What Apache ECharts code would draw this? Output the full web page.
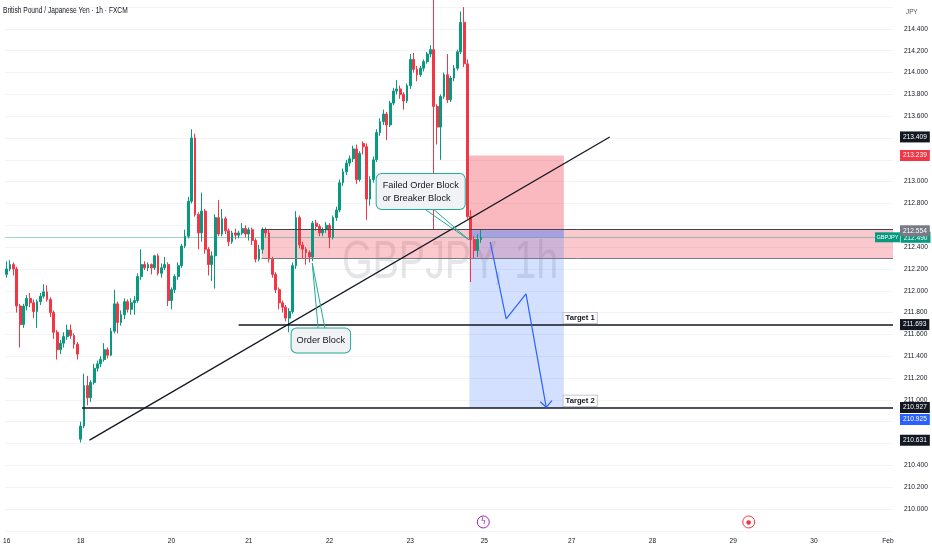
<!DOCTYPE html>
<html><head><meta charset="utf-8">
<script src="https://cdn.jsdelivr.net/npm/echarts@6/dist/echarts.min.js"></script>
<style>html,body{margin:0;padding:0;background:#fff}#c{width:932px;height:550px}</style>
</head><body><div id="c"></div>
<script>
// ---- candle data (hourly GBPJPY) ----
const opens = [212.15,212.20,212.24,212.20,211.86,211.69,211.86,211.93,211.89,211.81,211.90,211.95,211.99,211.92,211.80,211.62,211.46,211.52,211.58,211.64,211.59,211.51,
210.64,210.76,211.13,211.02,211.16,211.29,211.33,211.37,211.46,211.41,211.63,211.88,211.71,211.78,211.90,211.83,
211.89,211.91,212.13,212.24,212.21,212.24,212.21,212.32,212.16,212.21,212.24,211.91,212.01,212.13,212.23,212.41,212.50,212.82,213.40,212.70,212.53,212.73,212.38,212.24,212.32,212.67,212.52,212.66,212.55,212.45,212.53,212.51,212.53,212.57,212.52,212.56,
212.46,212.29,212.38,212.56,212.53,212.29,212.15,212.01,211.89,211.85,211.75,211.81,212.23,212.67,212.42,212.38,212.35,212.31,212.62,212.59,212.53,212.56,212.60,212.49,212.67,212.74,
212.99,213.09,213.17,213.21,213.30,213.02,213.35,213.32,212.84,213.02,213.20,213.45,213.55,213.62,213.52,213.72,213.83,213.85,213.80,213.74,213.88,214.12,214.03,213.98,214.04,214.10,214.17,
214.21,213.69,213.50,213.78,213.98,213.75,213.95,214.04,214.19,214.46,214.08,212.68,212.47,212.37,212.47];
const closes = [212.20,212.24,212.20,211.86,211.69,211.86,211.93,211.89,211.81,211.90,211.95,211.99,211.92,211.80,211.62,211.46,211.52,211.58,211.64,211.59,211.51,211.42,
210.76,211.13,211.02,211.16,211.29,211.33,211.37,211.46,211.41,211.63,211.88,211.71,211.78,211.90,211.83,211.89,
211.91,212.13,212.24,212.21,212.24,212.21,212.32,212.16,212.21,212.24,211.91,212.01,212.13,212.23,212.41,212.50,212.82,213.40,212.70,212.53,212.73,212.38,212.24,212.32,212.67,212.52,212.66,212.55,212.45,212.53,212.51,212.53,212.57,212.52,212.56,212.46,
212.29,212.38,212.56,212.53,212.29,212.15,212.01,211.89,211.85,211.75,211.81,212.23,212.67,212.42,212.38,212.35,212.31,212.62,212.59,212.53,212.56,212.60,212.49,212.67,212.74,212.99,
213.09,213.17,213.21,213.30,213.02,213.26,213.32,212.84,213.02,213.20,213.45,213.55,213.62,213.52,213.72,213.83,213.85,213.80,213.74,213.88,214.12,214.03,213.98,214.04,214.10,214.17,214.21,
213.69,213.50,213.78,213.98,213.75,213.95,214.04,214.19,214.46,214.08,212.68,212.47,212.37,212.47,212.49];
const lows = [212.12,212.18,212.14,211.80,211.48,211.66,211.82,211.85,211.75,211.66,211.87,211.93,211.90,211.76,211.56,211.37,211.42,211.48,211.55,211.56,211.47,211.37,
210.61,210.74,210.95,210.98,211.14,211.26,211.30,211.35,211.38,211.40,211.61,211.61,211.68,211.74,211.80,211.78,
211.78,211.89,212.10,212.19,212.18,212.15,212.19,212.14,212.12,212.19,211.86,211.83,211.98,212.10,212.21,212.39,212.48,212.80,212.68,212.38,212.45,212.34,212.14,212.09,212.02,212.50,212.50,212.52,212.41,212.43,212.47,212.48,212.51,212.49,212.46,212.42,
212.26,212.27,212.34,212.49,212.26,212.12,211.98,211.83,211.80,211.72,211.62,211.79,212.20,212.39,212.30,212.24,212.26,212.27,212.55,212.50,212.50,212.53,212.39,212.47,212.64,212.72,
212.96,213.06,213.14,213.18,212.98,213.00,213.25,212.65,212.78,212.99,213.18,213.42,213.52,213.38,213.50,213.70,213.80,213.76,213.66,213.72,213.85,214.00,213.92,213.96,214.01,214.08,214.14,
212.56,213.34,213.20,213.76,213.72,213.73,213.92,214.02,214.17,214.05,212.66,212.08,212.30,212.31,212.44];
const highs = [212.27,212.28,212.26,212.22,211.88,211.88,211.96,211.98,211.92,211.92,211.98,212.06,212.05,211.94,211.82,211.64,211.55,211.62,211.69,211.69,211.61,211.53,
210.80,211.24,211.22,211.18,211.33,211.36,211.40,211.52,211.48,211.66,212.01,211.90,211.82,211.93,211.92,211.93,
211.95,212.16,212.38,212.27,212.26,212.25,212.33,212.34,212.25,212.31,212.26,212.03,212.15,212.26,212.43,212.56,212.86,213.48,213.44,212.72,212.90,212.75,212.40,212.36,212.70,212.83,212.75,212.68,212.57,212.55,212.57,212.55,212.62,212.60,212.58,212.58,
212.48,212.42,212.58,212.58,212.56,212.31,212.17,212.03,211.91,211.87,211.84,212.26,212.73,212.69,212.45,212.40,212.37,212.64,212.65,212.61,212.58,212.63,212.62,212.69,212.77,213.02,
213.12,213.20,213.24,213.33,213.34,213.28,213.37,213.35,213.05,213.23,213.48,213.58,213.66,213.64,213.74,213.86,213.93,213.88,213.82,213.90,214.17,214.18,214.06,214.06,214.12,214.19,214.25,
214.72,213.71,213.80,214.00,214.17,213.97,214.07,214.21,214.56,214.60,214.12,212.74,212.50,212.52,212.56];

// ---- time axis ticks ----
const slotCount = 264;
const tickIndex = [0,22,49,72,96,120,142,168,192,216,240,262];
const tickText = ['16','18','20','21','22','23','25','27','28','29','30','Feb'];

// ---- price axis ----
const priceMin = 209.8, priceMax = 214.6, priceStep = 0.2;
const hiddenPriceLabels = [214.6, 213.4, 213.2, 212.6, 210.8, 210.6, 209.8];

// ---- drawing levels ----
const lastPrice = 212.490;
const entryPrice = 212.554;
const stopPrice = 213.239;
const targetPrice = 210.925;
const target1 = 211.693;
const target2 = 210.927;
const trendStart = [24.63, 210.631];
const trendEnd = [179.3, 213.409];
const zoneTop = 212.566, zoneBottom = 212.301, zoneStart = 75.77;
const positionStart = 137.56, positionEnd = 165.65;
const target1Start = 68.97, target2Start = 22.4;
const arrowPath = [[143.77,212.447],[148.5,211.742],[154.4,211.971],[160.41,210.932]];
const arrowHead = [[158.64,210.983],[160.41,210.932],[162.1,210.993]];
const failedWedge = [[124.6,212.741],[137.47,212.466],[127.1,212.741]];
const obWedge = [[92.6,211.659],[90.85,212.252],[94.6,211.659]];
const failedLabelAt = [110.0, 212.910];
const obLabelAt = [93.4, 211.544];
const target1LabelAt = [170.5, 211.751];
const target2LabelAt = [170.5, 210.992];
const eventsAt = [[141.7, 209.881], [220.6, 209.881]];

const FONT = "'Liberation Sans', Arial, sans-serif";
const UP = '#089981', DOWN = '#f23645', INK = '#131722';

const categories = [];
for (let i = 0; i < slotCount; i++) {
  const t = tickIndex.indexOf(i);
  categories.push(t >= 0 ? tickText[t] : '');
}
const candles = opens.map((o, i) => [o, closes[i], lows[i], highs[i]]);
const xEnd = slotCount - 0.5;

function boxLabel(value, bg, offsetY) {
  return {
    show: true, position: 'end', distance: 7, offset: [0, offsetY || 0],
    formatter: value.toFixed(3), backgroundColor: bg, color: '#ffffff', opacity: 1,
    padding: [2.5, 3, 1.5, 3], fontSize: 6.6, fontFamily: FONT
  };
}
function axisBox(value, bg, offsetY) {
  return { yAxis: value, lineStyle: { color: 'rgba(0,0,0,0)', width: 1, opacity: 1 }, label: boxLabel(value, bg, offsetY) };
}

const chart = echarts.init(document.getElementById('c'), null, { renderer: 'canvas' });
chart.setOption({
  animation: false,
  backgroundColor: '#ffffff',
  graphic: [
    { type: 'text', x: 3, y: 11, scaleX: 0.78, z: 1, style: { text: 'British Pound / Japanese Yen · 1h · FXCM', fontSize: 8.5, fill: INK, verticalAlign: 'middle', fontFamily: FONT } },
    { type: 'text', x: 906, y: 12, z: 1, style: { text: 'JPY', fontSize: 6.3, fill: '#50535e', verticalAlign: 'middle', fontFamily: FONT } },
    { type: 'text', x: 450, y: 263, scaleX: 0.73, z: 1, style: { text: 'GBPJPY, 1h', fontSize: 54, fill: 'rgba(120,123,134,0.2)', align: 'center', verticalAlign: 'middle', fontFamily: FONT } }
  ],
  grid: { left: 0, right: 39, top: 7.1, bottom: 19.2, containLabel: false },
  xAxis: [
    {
      type: 'category', data: categories, boundaryGap: true,
      axisLine: { show: false }, axisTick: { show: false },
      axisLabel: { interval: 0, fontSize: 6.6, color: INK, margin: 7, fontFamily: FONT },
      splitLine: { show: false }
    },
    { type: 'value', min: -0.5, max: xEnd, show: false }
  ],
  yAxis: {
    type: 'value', position: 'right', min: priceMin, max: priceMax, interval: priceStep,
    axisLine: { show: false }, axisTick: { show: false },
    splitLine: { show: true, lineStyle: { color: '#f3f4f6', width: 1 } },
    axisLabel: {
      fontSize: 6.6, color: INK, margin: 11, fontFamily: FONT,
      formatter: v => hiddenPriceLabels.some(h => Math.abs(h - v) < 1e-6) ? '' : v.toFixed(3)
    }
  },
  series: [
    {
      type: 'candlestick', name: 'GBPJPY', xAxisIndex: 0, data: candles,
      barWidth: '70%', clip: false, z: 2,
      itemStyle: { color: UP, color0: DOWN, borderColor: UP, borderColor0: DOWN, borderWidth: 1 },
      markLine: {
        silent: true, symbol: ['none', 'none'], animation: false,
        data: [{
          yAxis: lastPrice,
          lineStyle: { color: 'rgba(8,153,129,0.5)', width: 0.8, type: 'solid', opacity: 1 },
          label: {
            show: true, position: 'end', distance: 7, offset: [-25, 0],
            formatter: '{a|GBPJPY}{s| }{b|' + lastPrice.toFixed(3) + '}',
            rich: {
              a: { backgroundColor: UP, color: '#fff', padding: [2.5, 1.5, 1.5, 1.5], fontSize: 5.6, fontFamily: FONT },
              s: { fontSize: 2 },
              b: { backgroundColor: UP, color: '#fff', padding: [2.5, 3, 1.5, 3], fontSize: 6.6, fontFamily: FONT }
            }
          }
        }]
      }
    },
    {
      type: 'line', name: 'projection', xAxisIndex: 1, data: arrowPath, z: 5,
      symbol: 'none', lineStyle: { color: '#2962ff', width: 1.2 },
      markArea: {
        silent: true, label: { show: false },
        data: [
          [{ coord: [zoneStart, zoneTop], itemStyle: { color: 'rgba(242,54,69,0.27)' } }, { coord: [xEnd, zoneBottom] }],
          [{ coord: [positionStart, stopPrice], itemStyle: { color: 'rgba(242,54,69,0.35)' } }, { coord: [positionEnd, entryPrice] }],
          [{ coord: [positionStart, entryPrice], itemStyle: { color: 'rgba(41,98,255,0.2)' } }, { coord: [positionEnd, targetPrice] }],
          [{ coord: [positionStart, entryPrice], itemStyle: { color: 'rgba(41,98,255,0.25)' } }, { coord: [positionEnd, lastPrice] }]
        ]
      },
      markLine: {
        silent: true, symbol: ['none', 'none'], animation: false,
        lineStyle: { type: 'solid' }, label: { show: false },
        data: [
          [{ coord: [zoneStart, zoneTop], lineStyle: { color: '#434651', width: 1, type: 'solid' } }, { coord: [xEnd, zoneTop] }],
          [{ coord: [zoneStart, zoneBottom], lineStyle: { color: '#787b86', width: 1, type: 'solid' } }, { coord: [xEnd, zoneBottom] }],
          [{ coord: trendStart, lineStyle: { color: INK, width: 1.3, type: 'solid' } }, { coord: trendEnd }],
          [{ coord: [target1Start, target1], lineStyle: { color: INK, width: 1.5, type: 'solid' } }, { coord: [xEnd, target1] }],
          [{ coord: [target2Start, target2], lineStyle: { color: INK, width: 1.5, type: 'solid' } }, { coord: [xEnd, target2] }],
          axisBox(trendEnd[1], INK),
          axisBox(stopPrice, DOWN),
          axisBox(entryPrice, '#787b86'),
          axisBox(target1, INK),
          axisBox(target2, INK),
          axisBox(targetPrice, '#2962ff', 12),
          axisBox(trendStart[1], INK)
        ]
      },
      markPoint: {
        silent: true, animation: false,
        data: [
          {
            coord: failedLabelAt, symbol: 'circle', symbolSize: 0,
            label: {
              show: true, position: 'inside', formatter: 'Failed Order Block\nor Breaker Block',
              color: INK, fontSize: 9.2, lineHeight: 13, align: 'left', fontFamily: FONT,
              backgroundColor: '#f0f2f5', borderColor: '#22ab94', borderWidth: 1, borderRadius: 5, padding: [5, 6, 4, 6]
            }
          },
          {
            coord: obLabelAt, symbol: 'circle', symbolSize: 0,
            label: {
              show: true, position: 'inside', formatter: 'Order Block',
              color: INK, fontSize: 9.2, lineHeight: 13, fontFamily: FONT,
              backgroundColor: '#f0f2f5', borderColor: '#22ab94', borderWidth: 1, borderRadius: 5, padding: [6, 5, 5, 5]
            }
          },
          {
            coord: target1LabelAt, symbol: 'circle', symbolSize: 0,
            label: {
              show: true, position: 'inside', formatter: 'Target 1', color: INK, fontSize: 7.7, fontWeight: 'bold', fontFamily: FONT,
              backgroundColor: '#ffffff', borderColor: '#b2b5be', borderWidth: 0.8, padding: [1.5, 2, 1, 2]
            }
          },
          {
            coord: target2LabelAt, symbol: 'circle', symbolSize: 0,
            label: {
              show: true, position: 'inside', formatter: 'Target 2', color: INK, fontSize: 7.7, fontWeight: 'bold', fontFamily: FONT,
              backgroundColor: '#ffffff', borderColor: '#b2b5be', borderWidth: 0.8, padding: [1.5, 2, 1, 2]
            }
          },
          {
            coord: eventsAt[0], symbol: 'circle', symbolSize: 12,
            itemStyle: { color: '#ffffff', borderColor: '#9c27b0', borderWidth: 1 },
            label: { show: true, position: 'inside', formatter: 'ϟ', color: '#9c27b0', fontSize: 8, fontFamily: 'DejaVu Sans' }
          },
          {
            coord: eventsAt[1], symbol: 'circle', symbolSize: 12,
            itemStyle: { color: '#ffffff', borderColor: '#f23645', borderWidth: 1 },
            label: { show: true, position: 'inside', formatter: '●', color: '#f23645', fontSize: 6, fontFamily: 'DejaVu Sans' }
          }
        ]
      }
    },
    {
      type: 'line', name: 'arrowHead', xAxisIndex: 1, data: arrowHead, z: 5,
      symbol: 'none', lineStyle: { color: '#2962ff', width: 1.2 }
    },
    {
      type: 'line', name: 'failedPointer', xAxisIndex: 1, data: failedWedge, z: 5,
      symbol: 'none', lineStyle: { color: '#22ab94', width: 1 }
    },
    {
      type: 'line', name: 'obPointer', xAxisIndex: 1, data: obWedge, z: 5,
      symbol: 'none', lineStyle: { color: '#22ab94', width: 1 }
    }
  ]
});
</script>
</body></html>
